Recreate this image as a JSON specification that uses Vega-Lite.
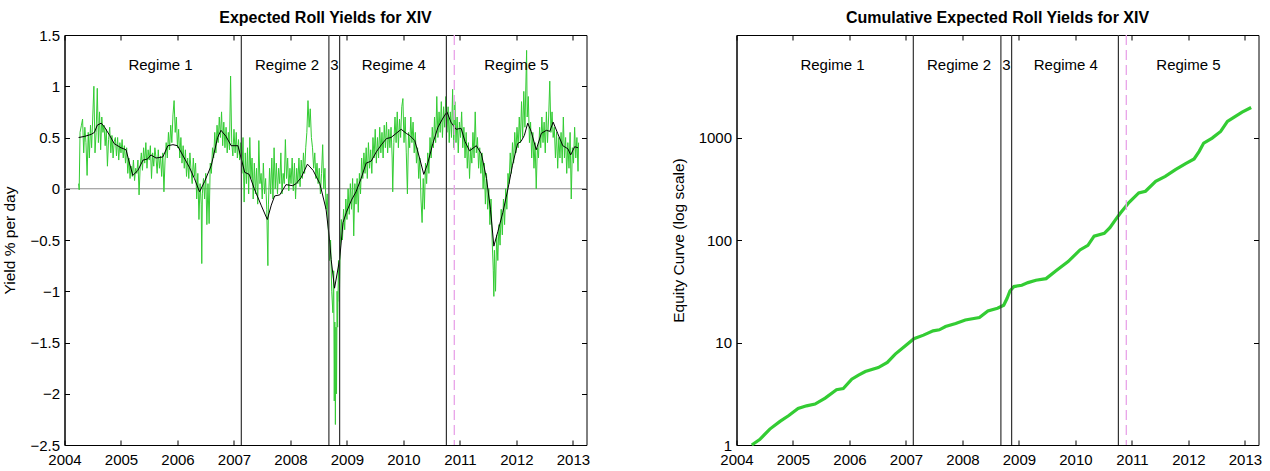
{
"$schema": "https://vega.github.io/schema/vega-lite/v6.json",
"background": "white",
"padding": {"left": 1.5, "right": 5, "top": 9, "bottom": 0},
"spacing": 150,
"bounds": "flush",
"config": {
  "view": {"stroke": "#000", "strokeWidth": 1},
  "font": "Liberation Sans",
  "axis": {"grid": false, "labelFont": "Liberation Sans", "titleFont": "Liberation Sans", "labelFontSize": 15, "titleFontSize": 15.5, "labelColor": "#000", "titleColor": "#000", "titleFontWeight": "normal", "domainColor": "#000", "tickColor": "#000", "tickSize": -5, "labelFlush": false, "labelOverlap": false, "domainWidth": 1, "tickWidth": 1},
  "title": {"font": "Liberation Sans", "fontSize": 16, "fontWeight": "bold", "color": "#000"}
},
"datasets": {
  "zero": [{"v": 0}],
  "bounds": [{"t": 2007.13}, {"t": 2008.68}, {"t": 2008.87}, {"t": 2010.76}],
  "oos": [{"t": 2010.9}],
  "labels": [{"t": 2005.7, "label": "Regime 1"}, {"t": 2007.94, "label": "Regime 2"}, {"t": 2008.78, "label": "3"}, {"t": 2009.83, "label": "Regime 4"}, {"t": 2012.0, "label": "Regime 5"}],
  "smooth": [
    {"t":2004.25,"v":0.50},{"t":2004.35,"v":0.51},{"t":2004.47,"v":0.53},{"t":2004.53,"v":0.55},{"t":2004.58,"v":0.62},{"t":2004.65,"v":0.64},{"t":2004.71,"v":0.60},{"t":2004.80,"v":0.52},{"t":2004.88,"v":0.44},{"t":2005.00,"v":0.40},{"t":2005.09,"v":0.38},{"t":2005.15,"v":0.25},{"t":2005.21,"v":0.13},{"t":2005.30,"v":0.18},{"t":2005.39,"v":0.28},{"t":2005.47,"v":0.29},{"t":2005.53,"v":0.33},{"t":2005.62,"v":0.30},{"t":2005.74,"v":0.31},{"t":2005.83,"v":0.42},{"t":2005.92,"v":0.43},{"t":2006.00,"v":0.42},{"t":2006.09,"v":0.33},{"t":2006.21,"v":0.21},{"t":2006.30,"v":0.10},{"t":2006.39,"v":-0.03},{"t":2006.48,"v":0.07},{"t":2006.60,"v":0.23},{"t":2006.71,"v":0.50},{"t":2006.77,"v":0.57},{"t":2006.86,"v":0.51},{"t":2006.95,"v":0.42},{"t":2007.07,"v":0.42},{"t":2007.13,"v":0.29},{"t":2007.19,"v":0.16},{"t":2007.27,"v":0.14},{"t":2007.36,"v":0.00},{"t":2007.48,"v":-0.16},{"t":2007.59,"v":-0.30},{"t":2007.66,"v":-0.16},{"t":2007.72,"v":-0.07},{"t":2007.81,"v":-0.06},{"t":2007.92,"v":0.04},{"t":2008.04,"v":0.03},{"t":2008.10,"v":0.05},{"t":2008.19,"v":0.11},{"t":2008.30,"v":0.24},{"t":2008.40,"v":0.18},{"t":2008.52,"v":0.05},{"t":2008.63,"v":-0.20},{"t":2008.69,"v":-0.49},{"t":2008.72,"v":-0.69},{"t":2008.78,"v":-0.97},{"t":2008.87,"v":-0.69},{"t":2008.93,"v":-0.33},{"t":2008.99,"v":-0.23},{"t":2009.08,"v":-0.11},{"t":2009.16,"v":-0.03},{"t":2009.25,"v":0.10},{"t":2009.34,"v":0.25},{"t":2009.43,"v":0.27},{"t":2009.52,"v":0.36},{"t":2009.61,"v":0.43},{"t":2009.70,"v":0.49},{"t":2009.78,"v":0.50},{"t":2009.87,"v":0.54},{"t":2009.96,"v":0.58},{"t":2010.05,"v":0.54},{"t":2010.11,"v":0.52},{"t":2010.20,"v":0.47},{"t":2010.28,"v":0.31},{"t":2010.36,"v":0.14},{"t":2010.43,"v":0.25},{"t":2010.52,"v":0.44},{"t":2010.61,"v":0.60},{"t":2010.70,"v":0.69},{"t":2010.77,"v":0.75},{"t":2010.84,"v":0.65},{"t":2010.93,"v":0.58},{"t":2011.02,"v":0.59},{"t":2011.09,"v":0.46},{"t":2011.17,"v":0.37},{"t":2011.29,"v":0.42},{"t":2011.38,"v":0.34},{"t":2011.47,"v":0.10},{"t":2011.54,"v":-0.20},{"t":2011.60,"v":-0.56},{"t":2011.67,"v":-0.42},{"t":2011.76,"v":-0.23},{"t":2011.85,"v":0.00},{"t":2011.93,"v":0.23},{"t":2012.02,"v":0.44},{"t":2012.08,"v":0.46},{"t":2012.14,"v":0.52},{"t":2012.20,"v":0.64},{"t":2012.26,"v":0.56},{"t":2012.35,"v":0.38},{"t":2012.44,"v":0.54},{"t":2012.53,"v":0.57},{"t":2012.59,"v":0.56},{"t":2012.65,"v":0.65},{"t":2012.73,"v":0.54},{"t":2012.82,"v":0.42},{"t":2012.91,"v":0.39},{"t":2012.96,"v":0.33},{"t":2013.03,"v":0.41},{"t":2013.09,"v":0.40}
  ],
  "roll": [
    {"t":2004.25,"v":0.05},{"t":2004.26,"v":-0.01},{"t":2004.275,"v":0.55},{"t":2004.30,"v":0.62},{"t":2004.32,"v":0.68},{"t":2004.34,"v":0.35},{"t":2004.36,"v":0.60},{"t":2004.38,"v":0.45},{"t":2004.40,"v":0.13},{"t":2004.42,"v":0.55},{"t":2004.44,"v":0.30},{"t":2004.46,"v":0.62},{"t":2004.48,"v":0.40},{"t":2004.50,"v":0.70},{"t":2004.52,"v":1.00},{"t":2004.54,"v":0.35},{"t":2004.56,"v":0.55},{"t":2004.58,"v":0.98},{"t":2004.60,"v":0.45},{"t":2004.62,"v":0.75},{"t":2004.64,"v":0.38},{"t":2004.66,"v":0.70},{"t":2004.68,"v":0.55},{"t":2004.70,"v":0.62},{"t":2004.72,"v":0.42},{"t":2004.74,"v":0.58},{"t":2004.76,"v":0.22},{"t":2004.78,"v":0.48},{"t":2004.80,"v":0.60},{"t":2004.82,"v":0.35},{"t":2004.84,"v":0.52},{"t":2004.86,"v":0.30},{"t":2004.88,"v":0.46},{"t":2004.90,"v":0.50},{"t":2004.92,"v":0.32},{"t":2004.94,"v":0.50},{"t":2004.96,"v":0.28},{"t":2004.98,"v":0.45},
    {"t":2005.00,"v":0.35},{"t":2005.02,"v":0.48},{"t":2005.04,"v":0.30},{"t":2005.06,"v":0.42},{"t":2005.08,"v":0.25},{"t":2005.10,"v":0.40},{"t":2005.12,"v":0.15},{"t":2005.14,"v":0.30},{"t":2005.16,"v":0.10},{"t":2005.18,"v":0.22},{"t":2005.20,"v":0.12},{"t":2005.22,"v":0.28},{"t":2005.24,"v":0.08},{"t":2005.26,"v":0.20},{"t":2005.28,"v":0.15},{"t":2005.30,"v":0.28},{"t":2005.32,"v":-0.06},{"t":2005.34,"v":0.22},{"t":2005.36,"v":0.35},{"t":2005.38,"v":0.18},{"t":2005.40,"v":0.40},{"t":2005.42,"v":0.25},{"t":2005.44,"v":0.45},{"t":2005.46,"v":0.20},{"t":2005.48,"v":0.38},{"t":2005.50,"v":0.28},{"t":2005.52,"v":0.42},{"t":2005.54,"v":0.10},{"t":2005.56,"v":0.35},{"t":2005.58,"v":0.22},{"t":2005.60,"v":0.40},{"t":2005.62,"v":0.30},{"t":2005.64,"v":0.15},{"t":2005.66,"v":0.38},{"t":2005.68,"v":0.20},{"t":2005.70,"v":0.32},{"t":2005.72,"v":0.12},{"t":2005.74,"v":0.35},{"t":2005.76,"v":-0.03},{"t":2005.78,"v":0.28},{"t":2005.80,"v":0.45},{"t":2005.82,"v":0.30},{"t":2005.84,"v":0.55},{"t":2005.86,"v":0.38},{"t":2005.88,"v":0.62},{"t":2005.90,"v":0.45},{"t":2005.92,"v":0.72},{"t":2005.94,"v":0.86},{"t":2005.96,"v":0.55},{"t":2005.98,"v":0.70},
    {"t":2006.00,"v":0.40},{"t":2006.02,"v":0.58},{"t":2006.04,"v":0.30},{"t":2006.06,"v":0.50},{"t":2006.08,"v":0.25},{"t":2006.10,"v":0.42},{"t":2006.12,"v":0.20},{"t":2006.14,"v":0.38},{"t":2006.16,"v":0.12},{"t":2006.18,"v":0.30},{"t":2006.20,"v":0.10},{"t":2006.22,"v":0.35},{"t":2006.24,"v":0.18},{"t":2006.26,"v":0.05},{"t":2006.28,"v":0.30},{"t":2006.30,"v":0.12},{"t":2006.32,"v":0.25},{"t":2006.34,"v":-0.10},{"t":2006.36,"v":0.15},{"t":2006.38,"v":-0.30},{"t":2006.40,"v":0.05},{"t":2006.42,"v":-0.15},{"t":2006.43,"v":-0.73},{"t":2006.44,"v":-0.05},{"t":2006.46,"v":0.10},{"t":2006.48,"v":-0.10},{"t":2006.50,"v":0.15},{"t":2006.52,"v":-0.35},{"t":2006.54,"v":0.05},{"t":2006.56,"v":-0.34},{"t":2006.58,"v":0.25},{"t":2006.60,"v":0.15},{"t":2006.62,"v":0.40},{"t":2006.64,"v":0.30},{"t":2006.66,"v":0.55},{"t":2006.68,"v":0.35},{"t":2006.70,"v":0.62},{"t":2006.72,"v":0.45},{"t":2006.74,"v":0.70},{"t":2006.76,"v":0.50},{"t":2006.78,"v":0.75},{"t":2006.80,"v":0.42},{"t":2006.82,"v":0.65},{"t":2006.84,"v":0.40},{"t":2006.86,"v":0.60},{"t":2006.88,"v":0.35},{"t":2006.90,"v":0.55},{"t":2006.92,"v":0.38},{"t":2006.94,"v":1.10},{"t":2006.96,"v":0.45},{"t":2006.98,"v":0.32},
    {"t":2007.00,"v":0.58},{"t":2007.02,"v":0.35},{"t":2007.04,"v":0.55},{"t":2007.06,"v":0.30},{"t":2007.08,"v":0.48},{"t":2007.10,"v":0.28},{"t":2007.12,"v":0.45},{"t":2007.14,"v":0.15},{"t":2007.16,"v":0.50},{"t":2007.18,"v":-0.13},{"t":2007.20,"v":0.35},{"t":2007.22,"v":0.05},{"t":2007.24,"v":0.40},{"t":2007.26,"v":-0.05},{"t":2007.28,"v":0.50},{"t":2007.30,"v":0.10},{"t":2007.32,"v":0.30},{"t":2007.34,"v":-0.10},{"t":2007.36,"v":0.25},{"t":2007.38,"v":-0.05},{"t":2007.40,"v":0.20},{"t":2007.42,"v":-0.15},{"t":2007.44,"v":0.47},{"t":2007.46,"v":0.05},{"t":2007.48,"v":0.15},{"t":2007.50,"v":-0.10},{"t":2007.52,"v":0.25},{"t":2007.54,"v":-0.05},{"t":2007.56,"v":0.10},{"t":2007.58,"v":-0.20},{"t":2007.60,"v":-0.75},{"t":2007.61,"v":-0.15},{"t":2007.63,"v":0.20},{"t":2007.65,"v":-0.05},{"t":2007.67,"v":0.30},{"t":2007.69,"v":-0.10},{"t":2007.71,"v":0.40},{"t":2007.73,"v":0.00},{"t":2007.75,"v":0.25},{"t":2007.77,"v":-0.05},{"t":2007.79,"v":0.20},{"t":2007.81,"v":0.05},{"t":2007.83,"v":0.35},{"t":2007.85,"v":-0.05},{"t":2007.87,"v":0.15},{"t":2007.89,"v":0.05},{"t":2007.91,"v":0.48},{"t":2007.93,"v":0.10},{"t":2007.95,"v":0.30},{"t":2007.97,"v":-0.02},{"t":2007.99,"v":0.20},
    {"t":2008.01,"v":0.05},{"t":2008.03,"v":0.30},{"t":2008.05,"v":-0.02},{"t":2008.07,"v":0.25},{"t":2008.09,"v":-0.10},{"t":2008.11,"v":0.20},{"t":2008.13,"v":0.05},{"t":2008.15,"v":0.30},{"t":2008.17,"v":0.02},{"t":2008.19,"v":0.28},{"t":2008.21,"v":0.10},{"t":2008.23,"v":0.35},{"t":2008.25,"v":0.15},{"t":2008.27,"v":0.40},{"t":2008.29,"v":0.55},{"t":2008.31,"v":0.86},{"t":2008.33,"v":0.60},{"t":2008.35,"v":0.78},{"t":2008.37,"v":0.50},{"t":2008.39,"v":0.40},{"t":2008.41,"v":0.20},{"t":2008.43,"v":0.35},{"t":2008.45,"v":0.10},{"t":2008.47,"v":0.25},{"t":2008.49,"v":0.05},{"t":2008.51,"v":0.20},{"t":2008.53,"v":-0.05},{"t":2008.55,"v":0.15},{"t":2008.57,"v":0.43},{"t":2008.59,"v":0.00},{"t":2008.61,"v":0.20},{"t":2008.63,"v":-0.20},{"t":2008.65,"v":-0.05},{"t":2008.67,"v":-0.40},{"t":2008.69,"v":-0.70},{"t":2008.71,"v":-0.50},{"t":2008.73,"v":-1.00},{"t":2008.75,"v":-1.21},{"t":2008.765,"v":-0.80},{"t":2008.775,"v":-2.07},{"t":2008.785,"v":-1.30},{"t":2008.795,"v":-2.30},{"t":2008.805,"v":-1.35},{"t":2008.815,"v":-2.00},{"t":2008.825,"v":-1.00},{"t":2008.835,"v":-1.35},{"t":2008.85,"v":-0.70},{"t":2008.865,"v":-1.10},{"t":2008.88,"v":-0.55},{"t":2008.90,"v":-0.30},{"t":2008.92,"v":-0.50},{"t":2008.94,"v":-0.20},{"t":2008.96,"v":-0.40},{"t":2008.98,"v":-0.10},
    {"t":2009.00,"v":-0.30},{"t":2009.02,"v":0.00},{"t":2009.04,"v":-0.25},{"t":2009.06,"v":0.05},{"t":2009.08,"v":-0.20},{"t":2009.10,"v":0.10},{"t":2009.12,"v":-0.46},{"t":2009.14,"v":0.05},{"t":2009.16,"v":-0.15},{"t":2009.18,"v":0.10},{"t":2009.20,"v":-0.23},{"t":2009.22,"v":0.15},{"t":2009.24,"v":-0.05},{"t":2009.26,"v":0.30},{"t":2009.28,"v":0.10},{"t":2009.30,"v":0.35},{"t":2009.32,"v":0.15},{"t":2009.34,"v":0.40},{"t":2009.36,"v":0.10},{"t":2009.38,"v":0.45},{"t":2009.40,"v":0.20},{"t":2009.42,"v":0.38},{"t":2009.44,"v":0.15},{"t":2009.46,"v":0.50},{"t":2009.48,"v":0.30},{"t":2009.50,"v":0.58},{"t":2009.52,"v":0.25},{"t":2009.54,"v":0.50},{"t":2009.56,"v":0.30},{"t":2009.58,"v":0.60},{"t":2009.60,"v":0.35},{"t":2009.62,"v":0.55},{"t":2009.64,"v":0.30},{"t":2009.66,"v":0.62},{"t":2009.68,"v":0.40},{"t":2009.70,"v":0.65},{"t":2009.72,"v":0.35},{"t":2009.74,"v":0.58},{"t":2009.76,"v":0.40},{"t":2009.78,"v":0.60},{"t":2009.80,"v":0.30},{"t":2009.81,"v":-0.03},{"t":2009.83,"v":0.45},{"t":2009.85,"v":0.70},{"t":2009.87,"v":0.45},{"t":2009.89,"v":0.75},{"t":2009.91,"v":0.40},{"t":2009.93,"v":0.68},{"t":2009.95,"v":0.50},{"t":2009.97,"v":0.80},{"t":2009.99,"v":0.88},
    {"t":2010.01,"v":0.45},{"t":2010.03,"v":0.70},{"t":2010.05,"v":0.35},{"t":2010.07,"v":-0.05},{"t":2010.09,"v":0.55},{"t":2010.11,"v":0.40},{"t":2010.13,"v":0.70},{"t":2010.15,"v":0.45},{"t":2010.17,"v":0.65},{"t":2010.19,"v":0.35},{"t":2010.21,"v":0.55},{"t":2010.23,"v":0.25},{"t":2010.25,"v":0.40},{"t":2010.27,"v":0.10},{"t":2010.29,"v":0.30},{"t":2010.31,"v":-0.10},{"t":2010.33,"v":-0.33},{"t":2010.35,"v":0.10},{"t":2010.37,"v":-0.20},{"t":2010.39,"v":0.25},{"t":2010.41,"v":0.05},{"t":2010.43,"v":0.35},{"t":2010.45,"v":0.15},{"t":2010.47,"v":0.50},{"t":2010.49,"v":0.30},{"t":2010.51,"v":0.60},{"t":2010.53,"v":0.40},{"t":2010.55,"v":0.70},{"t":2010.57,"v":0.45},{"t":2010.59,"v":0.90},{"t":2010.61,"v":0.50},{"t":2010.63,"v":0.75},{"t":2010.65,"v":0.55},{"t":2010.67,"v":0.85},{"t":2010.69,"v":0.50},{"t":2010.71,"v":0.80},{"t":2010.73,"v":0.60},{"t":2010.75,"v":0.90},{"t":2010.77,"v":0.55},{"t":2010.79,"v":0.80},{"t":2010.81,"v":0.45},{"t":2010.83,"v":0.75},{"t":2010.85,"v":0.50},{"t":2010.87,"v":0.97},{"t":2010.89,"v":0.40},{"t":2010.91,"v":0.85},{"t":2010.93,"v":0.45},{"t":2010.95,"v":0.70},{"t":2010.97,"v":0.35},{"t":2010.99,"v":0.65},
    {"t":2011.01,"v":0.50},{"t":2011.03,"v":0.75},{"t":2011.05,"v":0.40},{"t":2011.07,"v":0.60},{"t":2011.09,"v":0.30},{"t":2011.11,"v":0.55},{"t":2011.13,"v":0.20},{"t":2011.15,"v":0.45},{"t":2011.17,"v":0.10},{"t":2011.19,"v":0.40},{"t":2011.21,"v":0.25},{"t":2011.23,"v":0.55},{"t":2011.25,"v":0.30},{"t":2011.27,"v":0.75},{"t":2011.29,"v":0.35},{"t":2011.31,"v":0.50},{"t":2011.33,"v":0.20},{"t":2011.35,"v":0.40},{"t":2011.37,"v":0.15},{"t":2011.39,"v":0.35},{"t":2011.41,"v":0.00},{"t":2011.43,"v":0.25},{"t":2011.45,"v":-0.15},{"t":2011.47,"v":0.15},{"t":2011.49,"v":-0.20},{"t":2011.51,"v":0.00},{"t":2011.53,"v":-0.35},{"t":2011.55,"v":-0.10},{"t":2011.57,"v":-0.50},{"t":2011.59,"v":-0.80},{"t":2011.60,"v":-1.05},{"t":2011.61,"v":-0.60},{"t":2011.63,"v":-1.00},{"t":2011.65,"v":-0.45},{"t":2011.67,"v":-0.70},{"t":2011.69,"v":-0.35},{"t":2011.71,"v":-0.55},{"t":2011.73,"v":-0.20},{"t":2011.75,"v":-0.45},{"t":2011.77,"v":-0.10},{"t":2011.79,"v":-0.35},{"t":2011.81,"v":0.00},{"t":2011.83,"v":-0.20},{"t":2011.85,"v":0.15},{"t":2011.87,"v":0.05},{"t":2011.89,"v":0.35},{"t":2011.91,"v":0.15},{"t":2011.93,"v":0.45},{"t":2011.95,"v":0.25},{"t":2011.97,"v":0.55},{"t":2011.99,"v":0.35},
    {"t":2012.01,"v":0.60},{"t":2012.03,"v":0.40},{"t":2012.05,"v":0.70},{"t":2012.07,"v":0.45},{"t":2012.09,"v":0.85},{"t":2012.11,"v":0.50},{"t":2012.13,"v":0.95},{"t":2012.15,"v":0.60},{"t":2012.17,"v":1.10},{"t":2012.18,"v":1.35},{"t":2012.19,"v":0.70},{"t":2012.21,"v":0.90},{"t":2012.23,"v":0.45},{"t":2012.25,"v":0.65},{"t":2012.27,"v":0.30},{"t":2012.29,"v":0.55},{"t":2012.31,"v":0.20},{"t":2012.33,"v":0.45},{"t":2012.35,"v":0.00},{"t":2012.37,"v":0.40},{"t":2012.39,"v":0.30},{"t":2012.41,"v":0.60},{"t":2012.43,"v":0.40},{"t":2012.45,"v":0.70},{"t":2012.47,"v":0.45},{"t":2012.49,"v":0.65},{"t":2012.51,"v":0.35},{"t":2012.53,"v":0.75},{"t":2012.55,"v":0.45},{"t":2012.57,"v":0.70},{"t":2012.59,"v":1.05},{"t":2012.61,"v":0.55},{"t":2012.63,"v":0.75},{"t":2012.65,"v":0.50},{"t":2012.67,"v":0.60},{"t":2012.69,"v":0.30},{"t":2012.71,"v":0.55},{"t":2012.73,"v":0.20},{"t":2012.75,"v":0.50},{"t":2012.77,"v":0.30},{"t":2012.79,"v":0.55},{"t":2012.81,"v":0.25},{"t":2012.83,"v":0.70},{"t":2012.85,"v":0.30},{"t":2012.87,"v":0.50},{"t":2012.89,"v":0.15},{"t":2012.91,"v":0.45},{"t":2012.93,"v":0.20},{"t":2012.95,"v":0.55},{"t":2012.97,"v":-0.10},{"t":2012.99,"v":0.40},
    {"t":2013.01,"v":0.25},{"t":2013.03,"v":0.60},{"t":2013.05,"v":0.30},{"t":2013.07,"v":0.50},{"t":2013.09,"v":0.17},{"t":2013.10,"v":0.45}
  ],
  "cum": [
    {"t":2004.27,"v":1.00},{"t":2004.41,"v":1.13},{"t":2004.59,"v":1.43},{"t":2004.77,"v":1.70},{"t":2004.92,"v":1.93},{"t":2005.09,"v":2.27},{"t":2005.24,"v":2.41},{"t":2005.39,"v":2.51},{"t":2005.57,"v":2.87},{"t":2005.77,"v":3.46},{"t":2005.89,"v":3.55},{"t":2006.04,"v":4.39},{"t":2006.16,"v":4.80},{"t":2006.28,"v":5.21},{"t":2006.51,"v":5.70},{"t":2006.67,"v":6.4},{"t":2006.81,"v":7.7},{"t":2006.99,"v":9.3},{"t":2007.14,"v":10.9},{"t":2007.31,"v":11.8},{"t":2007.48,"v":13.0},{"t":2007.59,"v":13.3},{"t":2007.70,"v":14.3},{"t":2007.88,"v":15.3},{"t":2008.05,"v":16.6},{"t":2008.30,"v":17.5},{"t":2008.45,"v":20.3},{"t":2008.62,"v":21.6},{"t":2008.73,"v":23.1},{"t":2008.79,"v":27.0},{"t":2008.84,"v":31.8},{"t":2008.91,"v":35.1},{"t":2009.05,"v":36.2},{"t":2009.16,"v":38.4},{"t":2009.30,"v":40.5},{"t":2009.48,"v":42.0},{"t":2009.65,"v":49.9},{"t":2009.87,"v":61.5},{"t":2010.08,"v":80},{"t":2010.22,"v":88.8},{"t":2010.33,"v":109},{"t":2010.51,"v":116},{"t":2010.61,"v":132},{"t":2010.71,"v":158},{"t":2010.80,"v":184},{"t":2010.95,"v":233},{"t":2011.12,"v":288},{"t":2011.24,"v":299},{"t":2011.42,"v":374},{"t":2011.59,"v":418},{"t":2011.77,"v":486},{"t":2011.95,"v":556},{"t":2012.10,"v":617},{"t":2012.19,"v":733},{"t":2012.27,"v":883},{"t":2012.42,"v":987},{"t":2012.57,"v":1146},{"t":2012.69,"v":1435},{"t":2012.81,"v":1581},{"t":2012.95,"v":1767},{"t":2013.11,"v":1963}
  ]
},
"hconcat": [
  {
    "width": 522, "height": 410,
    "title": {"text": "Expected Roll Yields for XIV", "offset": -11, "baseline": "alphabetic"},
    "resolve": {"axis": {"x": "independent", "y": "independent"}},
    "layer": [
      {"data": {"name": "zero"}, "mark": {"type": "rule", "color": "#8c8c8c", "strokeWidth": 1.2},
       "encoding": {"y": {"field": "v", "type": "quantitative", "scale": {"domain": [-2.5, 1.5], "nice": false}, "axis": null}}},
      {"data": {"name": "roll"}, "mark": {"type": "line", "color": "#33cc33", "strokeWidth": 1},
       "encoding": {
         "x": {"field": "t", "type": "quantitative", "scale": {"domain": [2004, 2013.24], "nice": false, "zero": false},
               "axis": {"orient": "bottom", "title": null, "values": [2004,2005,2006,2007,2008,2009,2010,2011,2012,2013], "format": "d", "labelPadding": 12}},
         "y": {"field": "v", "type": "quantitative", "scale": {"domain": [-2.5, 1.5], "nice": false},
               "axis": {"orient": "left", "title": "Yield % per day", "values": [-2.5,-2,-1.5,-1,-0.5,0,0.5,1,1.5], "format": "~g", "labelPadding": 10, "titlePadding": 12}}}},
      {"data": {"name": "smooth"}, "mark": {"type": "line", "color": "#000", "strokeWidth": 1},
       "encoding": {
         "x": {"field": "t", "type": "quantitative", "scale": {"domain": [2004, 2013.24], "nice": false, "zero": false},
               "axis": {"orient": "top", "title": null, "labels": false, "domain": false, "values": [2004,2005,2006,2007,2008,2009,2010,2011,2012,2013]}},
         "y": {"field": "v", "type": "quantitative", "scale": {"domain": [-2.5, 1.5], "nice": false},
               "axis": {"orient": "right", "title": null, "labels": false, "domain": false, "values": [-2.5,-2,-1.5,-1,-0.5,0,0.5,1,1.5]}}}},
      {"data": {"name": "bounds"}, "mark": {"type": "rule", "color": "#333", "strokeWidth": 1.2},
       "encoding": {"x": {"field": "t", "type": "quantitative", "scale": {"domain": [2004, 2013.24], "nice": false, "zero": false}, "axis": null}}},
      {"data": {"name": "oos"}, "mark": {"type": "rule", "color": "#e9a3e9", "strokeWidth": 1.3, "strokeDash": [10, 5]},
       "encoding": {"x": {"field": "t", "type": "quantitative", "scale": {"domain": [2004, 2013.24], "nice": false, "zero": false}, "axis": null}}},
      {"data": {"name": "labels"}, "mark": {"type": "text", "fontSize": 15, "font": "Liberation Sans", "color": "#000", "align": "center", "baseline": "middle"},
       "encoding": {
         "x": {"field": "t", "type": "quantitative", "scale": {"domain": [2004, 2013.24], "nice": false, "zero": false}, "axis": null},
         "y": {"datum": 1.21, "type": "quantitative", "scale": {"domain": [-2.5, 1.5], "nice": false}, "axis": null},
         "text": {"field": "label"}}}
    ]
  },
  {
    "width": 522, "height": 410,
    "title": {"text": "Cumulative Expected Roll Yields for XIV", "offset": -5, "baseline": "alphabetic"},
    "resolve": {"axis": {"x": "independent", "y": "independent"}},
    "layer": [
      {"data": {"name": "cum"}, "mark": {"type": "line", "color": "#33cc33", "strokeWidth": 3.2},
       "encoding": {
         "x": {"field": "t", "type": "quantitative", "scale": {"domain": [2004, 2013.24], "nice": false, "zero": false},
               "axis": {"orient": "bottom", "title": null, "values": [2004,2005,2006,2007,2008,2009,2010,2011,2012,2013], "format": "d", "labelPadding": 12}},
         "y": {"field": "v", "type": "quantitative", "scale": {"type": "log", "domain": [1, 10000], "nice": false},
               "axis": {"orient": "left", "title": "Equity Curve (log scale)", "values": [1, 10, 100, 1000], "format": "d", "labelPadding": 10, "titlePadding": 12}}}},
      {"data": {"name": "bounds"}, "mark": {"type": "rule", "color": "#333", "strokeWidth": 1.2},
       "encoding": {"x": {"field": "t", "type": "quantitative", "scale": {"domain": [2004, 2013.24], "nice": false, "zero": false}, "axis": null}}},
      {"data": {"name": "oos"}, "mark": {"type": "rule", "color": "#e9a3e9", "strokeWidth": 1.3, "strokeDash": [10, 5]},
       "encoding": {"x": {"field": "t", "type": "quantitative", "scale": {"domain": [2004, 2013.24], "nice": false, "zero": false}, "axis": null}}},
      {"data": {"name": "labels"}, "mark": {"type": "text", "fontSize": 15, "font": "Liberation Sans", "color": "#000", "align": "center", "baseline": "middle"},
       "encoding": {
         "x": {"field": "t", "type": "quantitative", "scale": {"domain": [2004, 2013.24], "nice": false, "zero": false},
               "axis": {"orient": "top", "title": null, "labels": false, "domain": false, "values": [2004,2005,2006,2007,2008,2009,2010,2011,2012,2013]}},
         "y": {"datum": 5100, "type": "quantitative", "scale": {"type": "log", "domain": [1, 10000], "nice": false},
               "axis": {"orient": "right", "title": null, "labels": false, "domain": false, "values": [1, 10, 100, 1000]}},
         "text": {"field": "label"}}}
    ]
  }
]
}
